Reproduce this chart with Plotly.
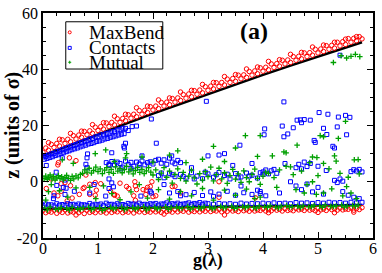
import plotly.graph_objects as go

# ---------------- data ----------------
# black reference curves
black_top_x = [0.0, 0.5, 1.0, 1.5, 2.0, 2.5, 3.0, 3.5, 4.0, 4.5, 5.0, 5.5, 5.8]
black_top_y = [9.3, 13.1, 16.9, 20.6, 24.2, 27.7, 31.2, 34.7, 38.0, 41.3, 44.6, 47.7, 49.6]
black_bot_x = [0.0, 1.0, 2.0, 3.0, 4.0, 5.0, 5.8]
black_bot_y = [-9.7, -9.5, -9.3, -9.0, -8.8, -8.5, -8.3]

X10 = [0.0,0.1,0.2,0.3,0.4,0.5,0.6,0.7,0.8,0.9,1.0,1.1,1.2,1.3,1.4,1.5,1.6,1.7,1.8,1.9,
       2.0,2.1,2.2,2.3,2.4,2.5,2.6,2.7,2.8,2.9,3.0,3.1,3.2,3.3,3.4,3.5,3.6,3.7,3.8,3.9,
       4.0,4.1,4.2,4.3,4.4,4.5,4.6,4.7,4.8,4.9,5.0,5.1,5.2,5.3,5.4,5.5,5.6,5.7,5.8]
X05 = [0.05,0.15,0.25,0.35,0.45,0.55,0.65,0.75,0.85,0.95,1.05,1.15,1.25,1.35,1.45,1.55,1.65,1.75,1.85,1.95,
       2.05,2.15,2.25,2.35,2.45,2.55,2.65,2.75,2.85,2.95,3.05,3.15,3.25,3.35,3.45,3.55,3.65,3.75,3.85,3.95,
       4.05,4.15,4.25,4.35,4.45,4.55,4.65,4.75,4.85,4.95,5.05,5.15,5.25,5.35,5.45,5.55,5.65,5.75]
X20 = [0.1,0.3,0.5,0.7,0.9,1.1,1.3,1.5,1.7,1.9,2.1,2.3,2.5,2.7,2.9,3.1,3.3,3.5,3.7,3.9,
       4.1,4.3,4.5,4.7,4.9,5.1,5.3,5.5,5.7]

# MaxBend (red) upper band
maxbend_up_a = [10.5,11.2,12.2,12.7,13.6,14.2,15.2,15.8,16.7,17.2,18.2,18.7,19.6,20.2,21.1,21.7,22.6,23.1,24.0,24.6,
                25.5,26.0,26.9,27.4,28.3,28.9,29.7,30.2,31.1,31.6,32.5,33.0,33.9,34.4,35.3,35.7,36.6,37.1,37.9,38.4,
                39.3,39.8,40.6,41.1,41.9,42.4,43.2,43.7,44.5,45.0,45.8,46.3,47.1,47.5,48.3,48.8,49.6,50.1,50.8]
maxbend_up_b = [12.0,13.3,13.6,14.9,15.1,16.4,16.6,17.9,18.1,19.4,19.6,20.9,21.1,22.4,22.5,23.8,24.0,25.3,25.4,26.7,
                26.9,28.2,28.3,29.6,29.8,31.0,31.2,32.4,32.6,33.8,34.0,35.2,35.3,36.5,36.7,37.9,38.0,39.2,39.4,40.5,
                40.7,41.9,42.0,43.2,43.3,44.5,44.6,45.8,45.9,47.1,47.2,48.4,48.5,49.6,49.8,50.9,51.0,51.6]
maxbend_up_c = [13.9,15.1,17.2,18.0,20.3,21.0,23.3,24.0,26.3,26.9,29.1,29.8,31.9,32.5,34.6,35.3,37.4,38.1,40.1,40.8,
                42.8,43.4,45.3,46.0,47.9,48.6,49.6,50.7,51.6]
# MaxBend lower band
maxbend_lo_a = [-10.2,-10.5,-10.1,-10.4,-10.0,-10.6,-10.2,-10.3,-10.1,-10.5,
                -10.0,-10.4,-10.1,-10.3,-9.9,-10.5,-10.0,-10.2,-9.9,-10.4,
                -10.0,-10.2,-9.8,-10.3,-9.9,-10.1,-9.8,-10.2,-9.9,-10.0,
                -9.7,-10.1,-9.8,-10.0,-9.7,-10.1,-9.6,-9.9,-9.7,-10.0,
                -9.6,-9.9,-9.5,-9.8,-9.6,-9.9,-9.5,-9.7,-9.4,-9.8,
                -9.4,-9.7,-9.3,-9.6,-9.4,-9.7,-9.3,-9.5,-9.2]
maxbend_lo_b = [-11.0,-10.8,-11.2,-10.9,-11.1,-10.8,-11.0,-11.3,-10.9,-11.0,
                -10.8,-11.1,-10.9,-10.7,-11.0,-10.8,-11.1,-10.7,-10.9,-10.8,
                -10.7,-10.9,-10.6,-10.8,-10.7,-10.5,-10.8,-10.6,-10.7,-10.5,
                -10.6,-10.4,-10.7,-10.5,-10.4,-10.6,-10.3,-10.5,-10.4,-10.2,
                -10.4,-10.3,-10.1,-10.4,-10.2,-10.3,-10.0,-10.2,-10.1,-10.3,
                -10.0,-10.2,-9.9,-10.1,-10.0,-9.8,-10.1,-9.9]
# MaxBend scattered points
maxbend_mid_x = [0.06,0.2,0.33,0.5,0.44,0.53,0.66,0.75,0.78,0.85,0.95,1.05,1.23,1.3,1.4,1.52,1.65,1.67,1.88,1.98,
                 2.0,0.27,0.28,0.48,0.6,0.33,0.27,0.73,0.85,0.97,0.95,1.56,1.68,1.7,1.82,1.9,1.3,1.35,1.68,1.87,
                 1.95,2.35,2.4,2.5,2.05,3.2,3.2,3.86,0.15,0.4,3.3,5.0,5.3,4.1,5.65,0.6,2.2]
maxbend_mid_y = [-2.4,-4.0,-0.7,-1.4,-6.8,-5.8,-4.5,-2.0,2.4,-4.5,-4.8,-0.7,-3.4,-4.5,-0.5,-1.7,-5.0,0.0,-3.0,0.0,
                 -5.3,6.0,6.8,8.5,7.5,-3.4,-5.0,-2.4,-0.9,-3.0,-0.3,-2.4,-1.5,-2.8,-2.8,-2.0,-4.8,-5.1,-6.6,-4.5,
                 -1.7,-1.7,-1.6,-4.0,-5.0,0.0,-5.5,-5.7,1.0,-0.3,-11.8,-10.9,-11.0,-11.0,-10.8,-11.8,-11.5]

# Contacts (blue)
XB1 = [0.0,0.05,0.1,0.15,0.2,0.25,0.3,0.35,0.4,0.45,0.5,0.55,0.6,0.65,0.7,0.75,0.8,0.85,0.9,0.95,
       1.0,1.05,1.1,1.15,1.2,1.25,1.3,1.35,1.4,1.45,1.5]
XB2 = [0.025,0.075,0.125,0.175,0.225,0.275,0.325,0.375,0.425,0.475,0.525,0.575,0.625,0.675,0.725,
       0.775,0.825,0.875,0.925,0.975,1.025,1.075,1.125,1.175,1.225,1.275,1.325,1.375,1.425,1.475]
contacts_up_a = [8.8,9.0,9.5,9.9,10.1,10.7,10.9,11.4,11.7,12.2,12.4,12.9,13.2,13.7,13.9,14.4,14.6,15.2,15.4,15.9,
                 16.0,16.6,16.7,17.2,17.3,17.8,17.9,18.4,18.5,19.0,19.0]
contacts_up_b = [8.0,8.3,8.6,8.9,9.3,9.6,10.0,10.3,10.7,11.0,11.4,11.7,12.0,12.4,12.7,13.0,13.4,13.6,13.9,14.3,
                 14.5,14.8,15.2,15.4,15.8,16.0,16.3,16.6,16.9,17.1]
contacts_lo_a = [-8.5,-8.2,-8.6,-8.3,-8.4,-8.1,-8.5,-8.2,-8.4,-8.3,
                 -8.2,-8.5,-8.1,-8.3,-8.2,-8.4,-8.0,-8.3,-8.1,-8.2,
                 -8.0,-8.3,-7.9,-8.2,-8.0,-8.1,-7.8,-8.1,-7.9,-8.0,
                 -7.8,-8.0,-7.7,-7.9,-7.8,-8.0,-7.6,-7.9,-7.7,-7.8,
                 -7.6,-7.8,-7.5,-7.7,-7.6,-7.8,-7.4,-7.6,-7.5,-7.7,
                 -7.4,-7.6,-7.3,-7.5,-7.4,-7.6,-7.3,-7.5,-7.3]
contacts_lo_b = [-7.9,-8.2,-7.8,-8.1,-7.8,-8.0,-7.9,-8.2,-7.7,-8.0,
                 -7.9,-7.6,-8.0,-7.8,-8.1,-7.7,-7.9,-7.6,-8.0,-7.8,
                 -7.7,-7.9,-7.5,-7.8,-7.6,-7.9,-7.5,-7.7,-7.4,-7.6]
contacts_mid_x = [0.06,0.24,0.35,0.8,0.81,0.78,0.8,0.25,0.42,0.57,0.19,0.93,0.2,0.37,0.4,0.85,0.4,
                  1.15,1.2,1.25,1.3,1.35,1.4,1.45,1.5,1.55,1.6,1.65,1.7,1.75,1.8,1.85,1.9,1.95,2.0,2.05,1.42,1.6,1.75,
                  1.25,1.5,1.47,1.48,2.06,2.34,1.8,1.2,
                  1.2,1.28,1.25,1.14,1.78,1.95,1.97,1.2,
                  2.1,2.15,2.2,2.25,2.3,2.35,2.4,2.45,2.5,
                  2.1,2.2,2.3,2.4,2.5,2.6,2.7,2.8,2.9,3.0,3.1,3.2,3.3,3.4,3.5,3.6,3.7,3.8,3.9,4.0,
                  2.15,2.35,2.55,2.75,2.95,3.15,3.35,3.55,3.75,3.95,
                  2.3,2.45,2.6,2.75,2.9,3.05,3.2,3.35,3.5,3.65,3.8,3.95,2.5,3.1,
                  3.0,3.2,3.3,3.58,2.7,3.45,3.8,2.2,3.6,
                  4.35,4.03,4.02,4.38,4.45,4.55,4.62,4.68,4.75,4.86,5.02,5.18,5.37,5.5,5.58,5.1,5.16,4.93,4.95,
                  5.27,5.3,4.38,5.4,5.35,5.52,4.7,
                  4.0,4.05,4.1,4.15,4.2,4.25,4.6,4.65,4.7,4.75,4.8,4.86,5.3,5.35,5.4,5.45,5.6,5.65,5.7,5.75,5.8,
                  4.4,5.0,5.15,
                  4.5,4.6,4.7,4.8,4.9,5.0,5.1,3.9,3.95,4.05,5.45,5.55,5.65,5.75,4.3,
                  1.55,1.62,1.7,1.97,2.97]
contacts_mid_y = [5.8,3.4,8.5,8.5,9.9,6.2,5.0,-1.3,-2.3,-3.4,-6.0,-1.0,-5.0,-2.0,-4.5,-4.0,0.6,
                  6.8,6.2,7.2,6.0,7.0,6.5,5.2,7.3,6.1,6.9,5.5,7.0,6.3,7.4,6.0,6.8,7.1,6.3,7.6,4.6,4.8,5.0,
                  10.3,13.7,12.6,12.0,13.7,9.2,9.2,5.8,
                  -2.4,-1.8,-0.4,-5.1,-5.1,-3.4,-4.0,1.0,
                  8.0,6.6,7.8,6.2,8.4,7.0,6.4,7.6,6.8,
                  2.2,1.4,3.0,1.8,2.6,1.2,3.2,2.0,1.1,2.8,1.6,3.3,2.2,1.0,2.9,1.7,3.1,2.3,1.3,2.6,
                  3.1,2.5,1.9,1.0,3.4,2.5,2.7,1.4,2.0,3.2,
                  -4.0,-3.5,-4.6,-3.8,-4.9,-3.6,-4.4,-3.4,-4.8,-3.9,-4.5,-3.5,-5.0,-5.2,
                  9.2,9.5,10.0,13.0,5.0,5.8,6.5,-1.0,-1.5,
                  19.8,18.8,16.7,16.0,17.0,19.2,21.9,22.0,22.1,21.9,24.6,24.0,23.0,23.6,22.9,19.0,16.8,14.7,14.0,
                  12.6,12.0,28.4,45.0,19.5,16.7,21.0,
                  3.5,4.2,2.8,3.9,4.4,3.0,5.0,6.2,4.6,7.0,5.4,6.5,0.5,-0.3,1.0,0.2,3.6,4.3,3.8,4.4,3.5,
                  6.5,5.5,4.0,
                  0.0,-1.5,-2.8,-0.8,-3.6,-2.0,-4.4,-3.0,-4.2,-5.0,-3.5,-4.8,-5.5,-6.0,-4.0,
                  18.2,19.6,19.8,22.3,28.6]

# Mutual (green)
XG1 = [0.03,0.13,0.23,0.33,0.43,0.53,0.63,0.73,0.83,0.93,1.03,1.13,1.23,1.33,1.43,1.53,1.63,1.73,1.83,1.93,
       2.03,2.13,2.23,2.33,2.43,2.53,2.63,2.73,2.83,2.93,3.03,3.13,3.23,3.33,3.43,3.53,3.63,3.73,3.83,3.93,
       4.03,4.13,4.23,4.33,4.43,4.53,4.63,4.73,4.83,4.93,5.03,5.13,5.23,5.33,5.43,5.53,5.63,5.73]
XG2 = [0.08,0.28,0.48,0.68,0.88,1.08,1.28,1.48,1.68,1.88,2.08,2.28,2.48,2.68,2.88,3.08,3.28,3.48,3.68,3.88,
       4.08,4.28,4.48,4.68,4.88,5.08,5.28,5.48,5.68]
mutual_lo_a = [-9.4,-9.0,-9.7,-9.2,-9.5,-9.1,-9.6,-9.3,-9.0,-9.5,
               -9.2,-9.6,-9.1,-9.4,-9.0,-9.5,-9.2,-9.3,-8.9,-9.4,
               -9.1,-9.5,-8.9,-9.2,-9.0,-9.4,-8.8,-9.1,-9.3,-8.9,
               -9.0,-9.3,-8.8,-9.1,-8.7,-9.2,-8.9,-8.8,-9.1,-8.7,
               -8.9,-8.6,-9.0,-8.8,-8.5,-8.9,-8.7,-8.6,-8.9,-8.5,
               -8.7,-8.4,-8.8,-8.6,-8.3,-8.7,-8.5,-8.4]
mutual_lo_b = [-10.0,-9.8,-10.1,-9.7,-9.9,-10.2,-9.6,-9.9,-9.7,-10.0,
               -9.6,-9.8,-9.5,-9.7,-9.4,-9.6,-9.3,-9.5,-9.2,-9.4,
               -9.1,-9.3,-9.0,-9.2,-8.9,-9.1,-8.8,-9.0,-8.7]
mutual_mid_x = [0.02,0.05,0.08,0.1,0.13,0.16,0.19,0.22,0.25,0.28,0.31,0.34,0.37,0.4,0.43,0.46,0.5,0.53,0.56,0.6,0.64,0.68,
                0.72,0.76,0.8,0.84,0.88,0.92,0.96,1.0,1.04,1.08,1.12,1.16,1.2,1.24,1.28,1.32,1.36,1.4,1.44,1.48,
                1.52,1.56,1.6,1.64,1.68,1.72,1.76,1.8,1.84,1.88,1.92,1.96,
                2.0,2.05,2.1,2.15,2.2,2.25,2.3,2.35,2.4,2.45,2.5,2.55,2.6,2.65,2.7,2.75,2.8,2.85,2.9,2.95,
                3.0,3.05,3.1,3.15,3.2,3.25,3.3,3.35,3.4,3.45,3.5,3.55,3.6,3.65,3.7,3.75,3.8,3.85,3.9,3.95,4.0,4.05,
                0.35,0.55,0.95,1.14,1.5,1.52,1.3,1.8,2.0,2.3,2.6,3.1,3.5,3.68,2.9,3.3,3.9,2.45,
                0.15,0.3,0.45,0.6,0.85,0.96,1.1,1.25,1.4,1.6,1.75,1.9,2.1,2.3,2.5,2.7,2.9,3.1,3.3,3.5,3.7,3.85,0.05,0.1,
                3.95,4.62,4.38,4.42,4.17,4.9,4.98,5.3,5.66,5.73,5.33,4.85,5.1,4.42,4.5,4.2,4.9,4.8,4.75,5.1,
                5.52,5.6,4.97,3.95,4.1,4.3,4.55,4.7,5.0,5.2,5.4,5.55,5.75,4.25,4.6,5.25,5.45,5.7,
                5.28,5.42,5.52,5.6,5.68,5.76,5.5,5.1,5.37,5.04]
mutual_mid_y = [1.2,2.0,0.8,1.6,2.4,1.0,1.9,0.6,1.4,2.2,1.1,1.8,0.7,1.5,2.3,1.2,0.5,1.9,1.0,2.1,1.4,2.6,
                3.0,4.2,3.4,4.8,3.1,4.0,5.2,3.6,4.6,2.9,4.1,5.0,3.3,4.4,3.0,5.3,3.8,4.7,3.2,4.3,
                5.5,3.5,4.5,2.8,4.0,5.1,3.3,4.4,2.9,3.9,5.0,3.4,
                2.4,4.2,0.8,3.1,5.0,1.6,3.8,-0.5,2.6,4.6,1.2,3.3,0.2,2.0,4.1,1.4,-0.8,2.9,0.6,3.6,
                1.8,5.2,0.3,2.5,4.8,1.0,3.2,-0.6,2.2,4.4,0.9,2.8,-0.2,3.9,1.5,0.0,2.6,4.5,1.2,-0.9,2.0,3.4,
                7.8,6.5,10.0,11.3,8.5,10.0,7.2,8.8,7.0,9.5,6.8,12.6,12.0,16.4,8.0,7.2,9.0,11.0,
                -1.0,-3.2,-5.5,-2.2,-2.0,-6.0,-1.5,-4.2,-6.4,-3.6,-1.0,-5.8,-2.8,-6.2,-3.5,-5.0,-2.4,-6.5,-3.0,-4.8,-2.6,-6.0,-6.5,-3.5,
                16.4,13.0,10.6,10.3,9.2,8.8,8.6,9.2,7.8,7.9,7.3,6.8,6.5,5.5,5.3,1.5,0.0,-1.0,-4.0,-4.0,
                -1.7,-4.0,-4.5,-5.5,3.0,4.2,2.5,3.8,2.2,4.6,3.0,1.6,2.8,-2.0,-2.8,-2.5,-5.0,-6.0,
                42.4,44.8,44.0,44.6,45.3,44.5,21.5,16.0,15.4,16.4]

x_ticks = [0, 1, 2, 3, 4, 5, 6]
y_ticks = [-20, 0, 20, 40, 60]
series_names = ["MaxBend", "Contacts", "Mutual"]

# ---------------- figure ----------------
RED = "#ff0000"
BLUE = "#0000ff"
GREEN = "#00a000"
SERIF = "Liberation Serif, Times New Roman, serif"

maxbend_x = X10 + X05 + X20 + X10 + X05 + maxbend_mid_x
maxbend_y = maxbend_up_a + maxbend_up_b + maxbend_up_c + maxbend_lo_a + maxbend_lo_b + maxbend_mid_y
contacts_x = XB1 + XB2 + X10 + X05[:30] + contacts_mid_x
contacts_y = contacts_up_a + contacts_up_b + contacts_lo_a + contacts_lo_b + contacts_mid_y
mutual_x = XG1 + XG2 + mutual_mid_x
mutual_y = mutual_lo_a + mutual_lo_b + mutual_mid_y
for a, b in [(maxbend_x, maxbend_y), (contacts_x, contacts_y), (mutual_x, mutual_y)]:
    if len(a) != len(b):
        print("length mismatch", len(a), len(b))

fig = go.Figure()
fig.add_trace(go.Scatter(x=black_top_x, y=black_top_y, mode="lines",
                         line=dict(color="black", width=2.5), showlegend=False))
fig.add_trace(go.Scatter(x=black_bot_x, y=black_bot_y, mode="lines",
                         line=dict(color="black", width=2.5), showlegend=False))
fig.add_trace(go.Scatter(x=maxbend_x, y=maxbend_y, mode="markers", name=series_names[0],
                         marker=dict(symbol="circle-open", size=4.5, color=RED, line=dict(width=1)),
                         showlegend=False))
fig.add_trace(go.Scatter(x=contacts_x, y=contacts_y, mode="markers", name=series_names[1],
                         marker=dict(symbol="square-open", size=4, color=BLUE, line=dict(width=1)),
                         showlegend=False))
fig.add_trace(go.Scatter(x=mutual_x, y=mutual_y, mode="markers", name=series_names[2],
                         marker=dict(symbol="cross-thin-open", size=4, color=GREEN, line=dict(width=1.3, color=GREEN)),
                         showlegend=False))

axis_common = dict(showline=True, linecolor="black", linewidth=1.5, mirror="ticks",
                   ticks="inside", ticklen=6, tickwidth=1, tickcolor="black",
                   showgrid=False, zeroline=False, ticklabeloverflow="allow",
                   tickfont=dict(family=SERIF, size=16, color="black"))
fig.update_xaxes(range=[0, 6], tickvals=x_ticks, ticktext=[str(v) for v in x_ticks],
                 ticklabelstandoff=-5,
                 minor=dict(dtick=0.25, ticks="inside", ticklen=3, tickcolor="black"), **axis_common)
fig.update_yaxes(range=[-20, 60], tickvals=y_ticks, ticktext=[str(v) for v in y_ticks],
                 minor=dict(dtick=5, ticks="inside", ticklen=3, tickcolor="black"), **axis_common)

# legend box (drawn manually to match compact spacing)
shapes = [dict(type="rect", xref="paper", yref="paper", x0=0.069, x1=0.363, y0=0.751, y1=0.961,
               line=dict(color="black", width=1), fillcolor="white", layer="above")]
ys = [0.914, 0.845, 0.781]
shapes.append(dict(type="circle", xref="paper", yref="paper", xsizemode="pixel", ysizemode="pixel",
                   xanchor=0.081, yanchor=ys[0], x0=-1.5, x1=1.5, y0=-1.5, y1=1.5,
                   line=dict(color=RED, width=1), layer="above"))
shapes.append(dict(type="rect", xref="paper", yref="paper", xsizemode="pixel", ysizemode="pixel",
                   xanchor=0.081, yanchor=ys[1], x0=-1.5, x1=1.5, y0=-1.5, y1=1.5,
                   line=dict(color=BLUE, width=1), layer="above"))
shapes.append(dict(type="path", xref="paper", yref="paper", xsizemode="pixel", ysizemode="pixel",
                   xanchor=0.081, yanchor=ys[2], path="M-1.5,0 L1.5,0 M0,-1.5 L0,1.5",
                   line=dict(color=GREEN, width=1), layer="above"))
fig.update_layout(shapes=shapes)

annotations = []
for name, yy in zip(series_names, ys):
    annotations.append(dict(text=name, xref="paper", yref="paper", x=0.132, y=yy,
                            xanchor="left", yanchor="middle", showarrow=False,
                            font=dict(family=SERIF, size=19, color="black")))
annotations.append(dict(text="<b>(a)</b>", xref="paper", yref="paper", x=0.64, y=0.918,
                        xanchor="center", yanchor="middle", showarrow=False,
                        font=dict(family=SERIF, size=24, color="black")))
annotations.append(dict(text="<b>z (units of σ)</b>", xref="paper", yref="paper", x=-0.093, y=0.5,
                        xanchor="center", yanchor="middle", textangle=-90, showarrow=False,
                        font=dict(family=SERIF, size=20, color="black")))
annotations.append(dict(text="<b>g(λ)</b>", xref="paper", yref="paper", x=0.5, y=-0.102,
                        xanchor="center", yanchor="middle", showarrow=False, borderpad=0,
                        font=dict(family=SERIF, size=18, color="black")))
fig.update_layout(annotations=annotations)

fig.update_layout(width=382, height=273, margin=dict(l=43, r=6, t=5, b=35),
                  plot_bgcolor="white", paper_bgcolor="white", showlegend=False)

fig.write_html("out.html", config={"displayModeBar": False},
               post_script="document.body.style.margin='0px';document.body.style.padding='0px';")
